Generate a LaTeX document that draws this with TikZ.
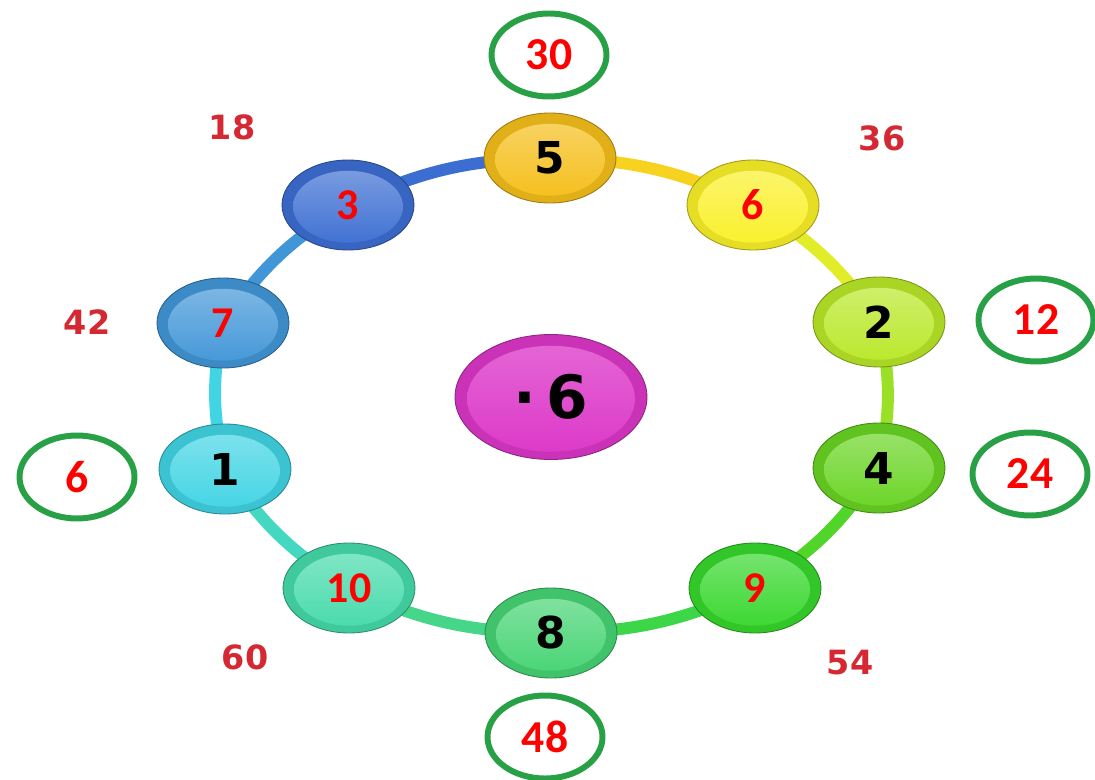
\documentclass[tikz,border=0pt]{standalone}
\usepackage{fontspec}
\usetikzlibrary{shapes.geometric,backgrounds}
\newfontfamily\redfont{Carlito}
\newfontfamily\keyfont{DejaVu Sans}

\definecolor{cfive}{RGB}{245,190,25}
\definecolor{csix}{RGB}{250,240,40}
\definecolor{ctwo}{RGB}{185,232,40}
\definecolor{cfour}{RGB}{105,212,35}
\definecolor{cnine}{RGB}{55,215,45}
\definecolor{ceight}{RGB}{70,212,115}
\definecolor{cten}{RGB}{70,218,170}
\definecolor{cone}{RGB}{65,212,228}
\definecolor{cseven}{RGB}{65,150,215}
\definecolor{cthree}{RGB}{60,110,210}
\definecolor{cmid}{RGB}{220,55,200}
\definecolor{ringgreen}{RGB}{40,160,70}
\definecolor{plainred}{RGB}{212,40,50}

\tikzset{
  button/.style={ellipse, minimum width=2.64cm, minimum height=1.8cm, inner sep=0pt,
    fill=#1!92!black, draw=#1!65!black, line width=0.5pt,
    path picture={\shade[top color=#1!65!white, bottom color=#1]
      ([yshift=-1pt]path picture bounding box.center) ellipse (1.1cm and 0.72cm);}},
  midbutton/.style={ellipse, minimum width=3.84cm, minimum height=2.5cm, inner sep=0pt,
    fill=#1!92!black, draw=#1!65!black, line width=0.5pt,
    path picture={\shade[top color=#1!75!white, bottom color=#1]
      ([yshift=-1pt]path picture bounding box.center) ellipse (1.68cm and 1.06cm);}},
  redkey/.style={text=red, font=\redfont\bfseries\fontsize{25}{25}\selectfont},
  blackkey/.style={text=black, font=\keyfont\bfseries\fontsize{25}{25}\selectfont},
  ring/.style={draw=#1, line width=6.8pt},
  circled/.style={ellipse, draw=ringgreen, line width=3.4pt, minimum width=2.3cm,
    minimum height=1.66cm, inner sep=0pt, text=red, font=\redfont\bfseries\fontsize{26}{26}\selectfont},
  plain/.style={text=plainred, font=\keyfont\bfseries\fontsize{19}{19}\selectfont}
}

\begin{document}
\begin{tikzpicture}[x=0.02cm,y=-0.02cm]
\useasboundingbox (0,0) rectangle (1095,780);

% buttons round the ring
\node[button=cfive, blackkey] (n5) at (550,158) {5};
\node[button=csix, redkey] (n6) at (753,205) {6};
\node[button=ctwo, blackkey] (n2) at (879,322) {2};
\node[button=cfour, blackkey] (n4) at (879,468) {4};
\node[button=cnine, redkey] (n9) at (755,588) {9};
\node[button=ceight, blackkey] (n8) at (551,633) {8};
\node[button=cten, redkey] (n10) at (349,588) {10};
\node[button=cone, blackkey] (n1) at (225,469) {1};
\node[button=cseven, redkey] (n7) at (223,323) {7};
\node[button=cthree, redkey] (n3) at (348,205) {3};

\node[midbutton=cmid, blackkey, font=\keyfont\bfseries\fontsize{34}{34}\selectfont]
  (mid) at (551,397) {·\,6};

\begin{scope}[on background layer]
\draw[ring=cfive!60!csix] (n5.center) to[bend left=12] (n6.center);
\draw[ring=csix!60!ctwo] (n6.center) to[bend left=12] (n2.center);
\draw[ring=ctwo!60!cfour] (n2.center) to[bend left=12] (n4.center);
\draw[ring=cfour!50!cnine] (n4.center) to[bend left=12] (n9.center);
\draw[ring=cnine!60!ceight] (n9.center) to[bend left=12] (n8.center);
\draw[ring=ceight!60!cten] (n8.center) to[bend left=12] (n10.center);
\draw[ring=cten!60!cone] (n10.center) to[bend left=12] (n1.center);
\draw[ring=cone] (n1.center) to[bend left=12] (n7.center);
\draw[ring=cseven] (n7.center) to[bend left=12] (n3.center);
\draw[ring=cthree] (n3.center) to[bend left=12] (n5.center);
\end{scope}

% products outside the ring
\node[circled] (c30) at (549,55) {30};
\node[circled] (c12) at (1036,320) {12};
\node[circled] (c24) at (1030,474) {24};
\node[circled] (c6) at (77,477) {6};
\node[circled] (c48) at (545,737) {48};

\node[plain] (p18) at (232,127) {18};
\node[plain] (p36) at (882,138) {36};
\node[plain] (p42) at (87,322) {42};
\node[plain] (p60) at (245,657) {60};
\node[plain] (p54) at (850,663) {54};
\end{tikzpicture}
\end{document}
